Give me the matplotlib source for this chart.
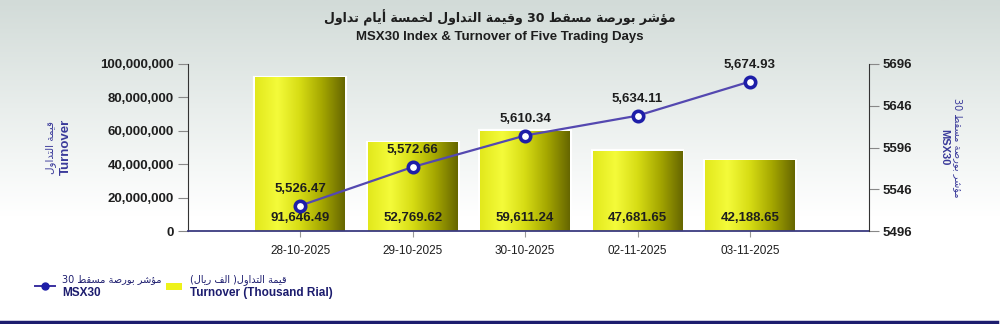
import re
import numpy as np
import matplotlib
matplotlib.use("Agg")
import matplotlib.pyplot as plt
from matplotlib.colors import LinearSegmentedColormap
from matplotlib.lines import Line2D
from matplotlib.patches import Rectangle

dates = ["28-10-2025", "29-10-2025", "30-10-2025", "02-11-2025", "03-11-2025"]
turnover = [91646.49, 52769.62, 59611.24, 47681.65, 42188.65]  # thousand rial
msx30 = [5526.47, 5572.66, 5610.34, 5634.11, 5674.93]

title_ar = "مؤشر بورصة مسقط 30 وقيمة التداول لخمسة أيام تداول"
title_en = "MSX30 Index & Turnover of Five Trading Days"
left_ar, left_en = "قيمة التداول", "Turnover"
right_ar, right_en = "مؤشر بورصة مسقط 30", "MSX30"
leg_bar_ar, leg_bar_en = "قيمة التداول( الف ريال)", "Turnover (Thousand Rial)"

# arabic presentation forms: isolated, final, initial, medial
AR_FORMS = {
    "ا": ("\uFE8D", "\uFE8E", None, None),
    "أ": ("\uFE83", "\uFE84", None, None),
    "ؤ": ("\uFE85", "\uFE86", None, None),
    "ب": ("\uFE8F", "\uFE90", "\uFE91", "\uFE92"),
    "ة": ("\uFE93", "\uFE94", None, None),
    "ت": ("\uFE95", "\uFE96", "\uFE97", "\uFE98"),
    "خ": ("\uFEA5", "\uFEA6", "\uFEA7", "\uFEA8"),
    "د": ("\uFEA9", "\uFEAA", None, None),
    "ر": ("\uFEAD", "\uFEAE", None, None),
    "س": ("\uFEB1", "\uFEB2", "\uFEB3", "\uFEB4"),
    "ش": ("\uFEB5", "\uFEB6", "\uFEB7", "\uFEB8"),
    "ص": ("\uFEB9", "\uFEBA", "\uFEBB", "\uFEBC"),
    "ط": ("\uFEC1", "\uFEC2", "\uFEC3", "\uFEC4"),
    "ف": ("\uFED1", "\uFED2", "\uFED3", "\uFED4"),
    "ق": ("\uFED5", "\uFED6", "\uFED7", "\uFED8"),
    "ل": ("\uFEDD", "\uFEDE", "\uFEDF", "\uFEE0"),
    "م": ("\uFEE1", "\uFEE2", "\uFEE3", "\uFEE4"),
    "و": ("\uFEED", "\uFEEE", None, None),
    "ي": ("\uFEF1", "\uFEF2", "\uFEF3", "\uFEF4"),
}


def ar(text):
    # shape letters and put them in visual (right-to-left) order
    out = []
    for i, c in enumerate(text):
        f = AR_FORMS.get(c)
        if f is None:
            out.append(c)
            continue
        prev = AR_FORMS.get(text[i - 1]) if i > 0 else None
        nxt = AR_FORMS.get(text[i + 1]) if i < len(text) - 1 else None
        jp = prev is not None and prev[2] is not None
        jn = nxt is not None and f[2] is not None
        if jp and jn:
            out.append(f[3])
        elif jp:
            out.append(f[1])
        elif jn:
            out.append(f[2])
        else:
            out.append(f[0])
    s = "".join(out)[::-1]
    s = re.sub(r"[0-9]+", lambda m: m.group(0)[::-1], s)
    return s.translate(str.maketrans("()", ")("))


FAM = ["Liberation Sans", "DejaVu Sans"]
plt.rcParams["font.family"] = FAM
NAVY = "#1c1c6e"
LABEL_BLUE = "#3a3a9a"
TXT = "#1e1e1e"

fig = plt.figure(figsize=(10, 3.24), dpi=100)

# background gradient
bg = fig.add_axes([0, 0, 1, 1], zorder=-10)
grad = np.linspace(0, 1, 256).reshape(-1, 1)
bg_cmap = LinearSegmentedColormap.from_list("bg", ["#d2dbd8", "#e9eeec", "#ffffff", "#ffffff"])
bg.imshow(grad, aspect="auto", cmap=bg_cmap, extent=[0, 1, 0, 1], origin="upper")
bg.plot([0, 0.997], [0.006, 0.006], color=NAVY, lw=2.5)
bg.set_xlim(0, 1)
bg.set_ylim(0, 1)
bg.axis("off")

ax = fig.add_axes([0.188, 0.287, 0.681, 0.5155])
ax.patch.set_alpha(0)
x = np.arange(len(dates))

bar_cmap = LinearSegmentedColormap.from_list(
    "bar", ["#e2e81c", "#f4fb3a", "#d6dc14", "#a4a600", "#666600"]
)
hgrad = np.linspace(0, 1, 256).reshape(1, -1)
w = 0.8
for xi, v in zip(x, turnover):
    h = v * 1000
    ax.add_patch(Rectangle((xi - w / 2, 0), w, h, facecolor="white",
                           edgecolor="white", lw=3, zorder=1))
    ax.imshow(hgrad, aspect="auto", cmap=bar_cmap,
              extent=[xi - w / 2, xi + w / 2, 0, h], zorder=2)
    ax.annotate(f"{v:,.2f}", (xi, 0), xytext=(0, 9.5), textcoords="offset points",
                ha="center", va="center", fontsize=9.5, fontweight="bold",
                color=TXT, zorder=5)
ax.set_xlim(-1.0, 5.06)
ax.set_ylim(0, 100_000_000)

ax.set_yticks(np.arange(0, 100_000_001, 20_000_000))
ax.set_yticklabels([f"{int(t):,}" for t in ax.get_yticks()])
ax.set_xticks(x)
ax.set_xticklabels(dates)
ax.tick_params(axis="y", length=7, color="#888888", labelsize=9.5, labelcolor=TXT, pad=3)
ax.tick_params(axis="x", length=4, color="#999999", labelsize=8.5, labelcolor=TXT, pad=6)
for t in ax.get_yticklabels():
    t.set_fontweight("bold")
ax.spines["top"].set_visible(False)
ax.spines["right"].set_visible(False)
ax.spines["left"].set_color("#333333")
ax.spines["bottom"].set_color("#3a3a80")
ax.spines["bottom"].set_linewidth(1.3)

ax2 = ax.twinx()
ax2.set_ylim(5496, 5696)
ax2.set_yticks(np.arange(5496, 5697, 50))
ax2.tick_params(axis="y", length=7, color="#888888", labelsize=9.5, labelcolor=TXT, pad=3)
for t in ax2.get_yticklabels():
    t.set_fontweight("bold")
for s in ["top", "left", "bottom"]:
    ax2.spines[s].set_visible(False)
ax2.spines["right"].set_color("#333333")
ax2.plot(x, msx30, color="#5448b0", lw=1.6, marker="o", markersize=7.5,
         markerfacecolor="white", markeredgecolor="#1e1ea8", markeredgewidth=2.6, zorder=4)
for xi, v in zip(x, msx30):
    ax2.annotate(f"{v:,.2f}", (xi, v), xytext=(0, 12), textcoords="offset points",
                 ha="center", va="center", fontsize=9.5, fontweight="bold", color=TXT)

# titles
fig.text(0.5, 0.945, ar(title_ar), ha="center", va="center", fontsize=9,
         fontweight="bold", color=TXT, family=["DejaVu Sans"])
fig.text(0.5, 0.886, title_en, ha="center", va="center", fontsize=9.5,
         fontweight="bold", color=TXT)

# axis labels
fig.text(0.051, 0.546, ar(left_ar), ha="center", va="center", rotation=90,
         fontsize=7.5, color=LABEL_BLUE, family=["DejaVu Sans"])
fig.text(0.066, 0.546, left_en, ha="center", va="center", rotation=90,
         fontsize=9.5, fontweight="bold", color=LABEL_BLUE)
fig.text(0.958, 0.545, ar(right_ar), ha="center", va="center", rotation=-90,
         fontsize=7, color=LABEL_BLUE, family=["DejaVu Sans"])
fig.text(0.944, 0.545, right_en, ha="center", va="center", rotation=-90,
         fontsize=8, fontweight="bold", color=LABEL_BLUE)

# legend
fig.add_artist(Line2D([0.035, 0.045, 0.055], [0.117, 0.117, 0.117], color="#3a30a0",
                      lw=1.4, marker="o", markersize=5, markevery=[1],
                      markerfacecolor="#1e1ea8", markeredgecolor="#1e1ea8"))
fig.text(0.062, 0.138, ar(right_ar), ha="left", va="center", fontsize=7,
         color=NAVY, family=["DejaVu Sans"])
fig.text(0.062, 0.096, right_en, ha="left", va="center", fontsize=8.5,
         fontweight="bold", color=NAVY)
fig.add_artist(Rectangle((0.166, 0.106), 0.016, 0.022, transform=fig.transFigure,
                         facecolor="#eef21a", edgecolor="none"))
fig.text(0.190, 0.138, ar(leg_bar_ar), ha="left", va="center", fontsize=7,
         color=NAVY, family=["DejaVu Sans"])
fig.text(0.190, 0.096, leg_bar_en, ha="left", va="center", fontsize=8.5,
         fontweight="bold", color=NAVY)

fig.savefig("out.png", dpi=100)
